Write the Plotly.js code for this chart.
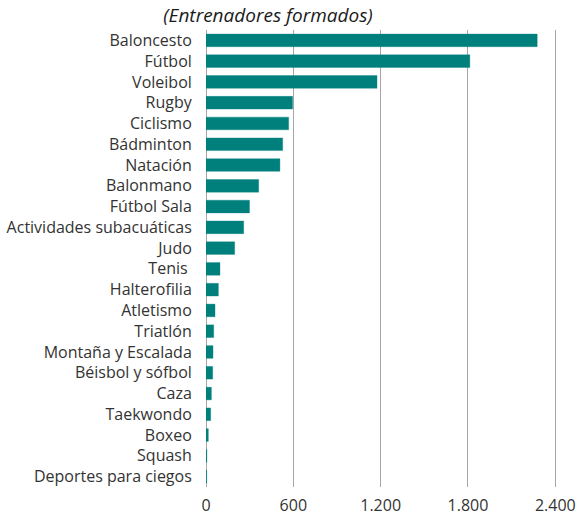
<!DOCTYPE html>
<html><head><meta charset="utf-8">
<script src="https://cdn.plot.ly/plotly-3.0.1.min.js"></script>
<style>html,body{margin:0;padding:0;background:#fff;}#chart{width:579px;height:516px;}</style>
</head><body><div id="chart"></div>
<script>
const categories = ["Baloncesto","Fútbol","Voleibol","Rugby","Ciclismo","Bádminton","Natación","Balonmano","Fútbol Sala","Actividades subacuáticas","Judo","Tenis ","Halterofilia","Atletismo","Triatlón","Montaña y Escalada","Béisbol y sófbol","Caza","Taekwondo","Boxeo","Squash","Deportes para ciegos"];
const entrenadores = [2276,1813,1175,595,568,527,508,362,299,259,197,96,85,62,53,48,46,37,32,16,6,5];
const tickValsX = [0,600,1200,1800,2400];
const subtitle = "(Entrenadores formados)";

const trace = {
  type: 'bar', orientation: 'h',
  y: categories, x: entrenadores,
  marker: {color: '#00807d', line: {color: 'rgba(0,128,125,0.35)', width: 1}},
  hoverinfo: 'x+y'
};
const layout = {
  width: 579, height: 516,
  margin: {l: 206, r: 15, t: 30, b: 29},
  paper_bgcolor: '#fff', plot_bgcolor: '#fff',
  separators: ',.',
  font: {family: '"Open Sans", sans-serif', size: 16, color: '#333'},
  bargap: 0.39,
  showlegend: false,
  title: {text: '<i>' + subtitle + '</i>', x: 268/579, xanchor: 'center', y: 1 - 15/516, yanchor: 'middle', yref: 'container', font: {size: 19, color: '#1a1a1a'}},
  xaxis: {range: [0, 2460], tickvals: tickValsX, ticktext: tickValsX.map(v => v.toLocaleString('de-DE')),
    showgrid: true, gridcolor: '#a6a6a6', gridwidth: 1, zeroline: true, zerolinecolor: '#a6a6a6', zerolinewidth: 1,
    showline: false, ticks: 'outside', ticklen: 4, tickcolor: 'rgba(0,0,0,0)', fixedrange: true},
  yaxis: {autorange: 'reversed', type: 'category', showgrid: false, zeroline: false, showline: false,
    ticks: 'outside', ticklen: 10, tickcolor: 'rgba(0,0,0,0)', fixedrange: true}
};
Plotly.newPlot('chart', [trace], layout, {displayModeBar: false, staticPlot: true});
</script></body></html>
